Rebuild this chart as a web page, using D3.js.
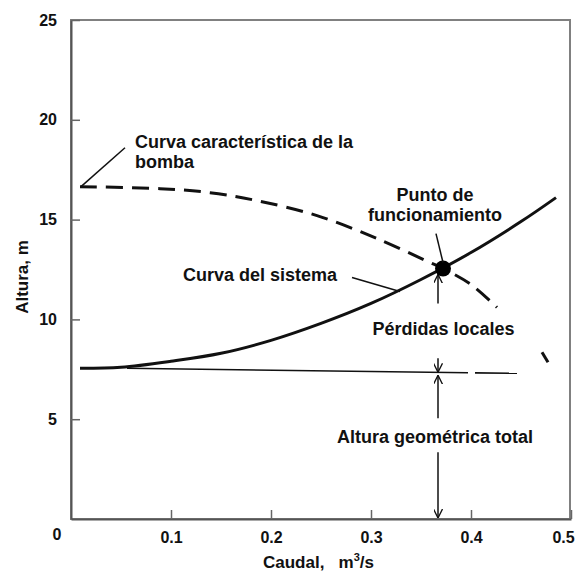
<!DOCTYPE html>
<html><head><meta charset="utf-8">
<script src="https://cdn.jsdelivr.net/npm/d3@7"></script>
<style>
html,body{margin:0;padding:0;background:#fff;}
text{font-family:"Liberation Sans",Arial,sans-serif;font-weight:bold;fill:#111;}
</style></head>
<body>
<svg id="c" width="577" height="573"></svg>
<script>
// ---- data ----
const xTicks = [0.1, 0.2, 0.3, 0.4, 0.5];
const xTickLabels = ["0.1", "0.2", "0.3", "0.4", "0.5"];
const yTicks = [5, 10, 15, 20, 25];
const yTickLabels = ["5", "10", "15", "20", "25"];

// pump characteristic curve (dashed), main piece and tail piece
const pumpQ = [0.009, 0.089, 0.139, 0.186, 0.246, 0.306, 0.359, 0.372, 0.4, 0.426];
const pumpH = [16.65, 16.55, 16.35, 15.95, 15.2, 14.05, 12.85, 12.55, 11.75, 10.6];
const pumpTailQ = [0.471, 0.477];
const pumpTailH = [8.35, 7.85];

// system curve (solid)
const sysQ = [0.009, 0.05, 0.1, 0.15, 0.2, 0.25, 0.3, 0.35, 0.4, 0.45, 0.485];
const sysH = [7.55, 7.6, 7.9, 8.3, 8.95, 9.8, 10.8, 12.0, 13.35, 14.9, 16.1];

// static head line (thin), two pieces
const staticQ1 = [0.056, 0.397];
const staticH1 = [7.55, 7.33];
const staticQ2 = [0.404, 0.446];
const staticH2 = [7.32, 7.3];

// operating point
const opQ = 0.372, opH = 12.55;

// vertical arrows at q = arrowQ : [from H, to H]
const arrowQ = 0.367;
const arrowFrom = [10.8, 8.05, 5.05, 3.35];
const arrowTo   = [12.25, 7.35, 7.2, 0.05];

// ---- chart ----
const svg = d3.select("#c");
const x = d3.scaleLinear().domain([0, 0.5]).range([71, 571]);
const y = d3.scaleLinear().domain([0, 25]).range([519, 20]);

// frame (top/right)
svg.append("rect").attr("x", x(0)).attr("y", y(25)).attr("width", x(0.5) - 1 - x(0)).attr("height", y(0) - y(25))
  .attr("fill", "none").attr("stroke", "#808080").attr("stroke-width", 2);

// axes
const xAxis = d3.axisBottom(x).tickValues(xTicks).tickFormat((d, i) => xTickLabels[i]).tickSizeInner(-9).tickSizeOuter(0).tickPadding(12);
const gx = svg.append("g").attr("transform", `translate(0,${y(0)})`).call(xAxis);
const yAxis = d3.axisLeft(y).tickValues(yTicks).tickFormat((d, i) => yTickLabels[i]).tickSizeInner(-9).tickSizeOuter(0).tickPadding(14);
const gy = svg.append("g").attr("transform", `translate(${x(0)},0)`).call(yAxis);
[gx, gy].forEach(g => {
  g.select(".domain").attr("stroke", "#555").attr("stroke-width", 2);
  g.selectAll(".tick line").attr("stroke", "#666").attr("stroke-width", 1.5);
  g.selectAll(".tick text").style("font-size", "16px").style("font-family", "Liberation Sans, Arial, sans-serif").style("font-weight", "bold").attr("fill", "#111");
});
gx.selectAll(".tick text").attr("dy", "0.75em");
gx.selectAll(".tick").filter(d => d === 0.5).select("text").attr("x", -8);
svg.append("text").attr("x", x(0) - 14).attr("y", y(0) + 21).attr("text-anchor", "middle").style("font-size", "16px").text("0");

// markers
const defs = svg.append("defs");
defs.append("marker").attr("id", "ah").attr("viewBox", "0 0 10 10").attr("refX", 10).attr("refY", 5)
  .attr("markerWidth", 9).attr("markerHeight", 9).attr("markerUnits", "userSpaceOnUse").attr("orient", "auto")
  .append("path").attr("d", "M0,0 L10,5 L0,10").attr("fill", "none").attr("stroke", "#111").attr("stroke-width", 1.5);

const line = d3.line().x(d => x(d[0])).y(d => y(d[1]));
const curve = d3.line().x(d => x(d[0])).y(d => y(d[1])).curve(d3.curveCatmullRom.alpha(0.5));

// system curve
svg.append("path").datum(sysQ.map((q, i) => [q, sysH[i]])).attr("d", curve)
  .attr("fill", "none").attr("stroke", "#111").attr("stroke-width", 3);

// pump curve
svg.append("path").datum(pumpQ.map((q, i) => [q, pumpH[i]])).attr("d", curve)
  .attr("fill", "none").attr("stroke", "#111").attr("stroke-width", 3).attr("stroke-dasharray", "17,9");
svg.append("path").datum(pumpTailQ.map((q, i) => [q, pumpTailH[i]])).attr("d", line)
  .attr("fill", "none").attr("stroke", "#111").attr("stroke-width", 3);

// static line
[[staticQ1, staticH1], [staticQ2, staticH2]].forEach(([qs, hs]) => {
  svg.append("path").datum(qs.map((q, i) => [q, hs[i]])).attr("d", line)
    .attr("fill", "none").attr("stroke", "#111").attr("stroke-width", 1.6);
});

// arrows
arrowFrom.forEach((h0, i) => {
  svg.append("line").attr("x1", x(arrowQ)).attr("x2", x(arrowQ)).attr("y1", y(h0)).attr("y2", y(arrowTo[i]))
    .attr("stroke", "#111").attr("stroke-width", 1.5).attr("marker-end", "url(#ah)");
});

// operating point
svg.append("circle").attr("cx", x(opQ)).attr("cy", y(opH)).attr("r", 8).attr("fill", "#000");

// leaders
const leaders = [
  [[0.054, 18.6], [0.010, 16.65]],
  [[0.281, 12.1], [0.329, 11.4]],
  [[0.365, 14.3], [0.372, 12.85]]
];
leaders.forEach(l => {
  svg.append("path").datum(l).attr("d", line).attr("fill", "none").attr("stroke", "#111").attr("stroke-width", 1.5);
});

// annotations
const ann = [
  {t: "Curva característica de la", q: 0.064, h: 18.6, a: "start"},
  {t: "bomba", q: 0.064, h: 17.6, a: "start"},
  {t: "Curva del sistema", q: 0.112, h: 11.9, a: "start"},
  {t: "Punto de", q: 0.364, h: 15.95, a: "middle"},
  {t: "funcionamiento", q: 0.364, h: 14.95, a: "middle"},
  {t: "Pérdidas locales", q: 0.3725, h: 9.2, a: "middle"},
  {t: "Altura geométrica total", q: 0.364, h: 3.8, a: "middle"}
];
ann.forEach(d => {
  svg.append("text").attr("x", x(d.q)).attr("y", y(d.h)).attr("text-anchor", d.a).style("font-size", "18px").text(d.t);
});

// axis titles
const xt = svg.append("text").attr("x", 263).attr("y", 568).style("font-size", "17px");
xt.append("tspan").text("Caudal,\u00a0\u00a0 m");
xt.append("tspan").attr("dy", -7).style("font-size", "11px").text("3");
xt.append("tspan").attr("dy", 7).text("/s");

svg.append("text").attr("transform", "translate(28,277) rotate(-90)").attr("text-anchor", "middle").style("font-size", "17px").text("Altura, m");
</script>
</body></html>
